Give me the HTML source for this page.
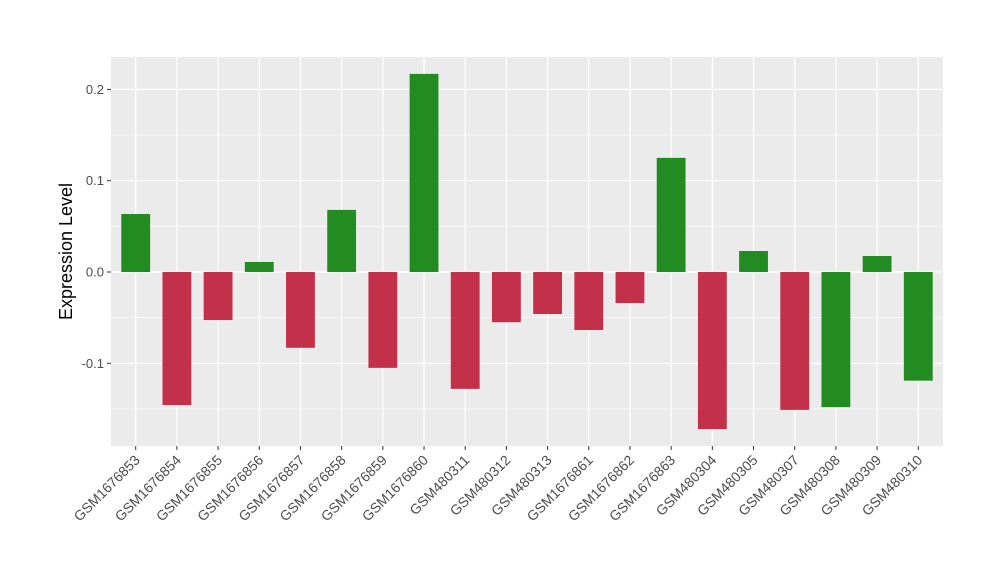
<!DOCTYPE html>
<html><head><meta charset="utf-8"><style>
body{margin:0;background:#fff;}
svg{display:block;font-family:"Liberation Sans",sans-serif;}
</style></head><body>
<svg id="chart" width="1000" height="580"></svg>
<script>
const categories=["GSM1676853","GSM1676854","GSM1676855","GSM1676856","GSM1676857","GSM1676858","GSM1676859","GSM1676860","GSM480311","GSM480312","GSM480313","GSM1676861","GSM1676862","GSM1676863","GSM480304","GSM480305","GSM480307","GSM480308","GSM480309","GSM480310"];
const values=[0.0635,-0.1457,-0.0526,0.011,-0.083,0.068,-0.105,0.217,-0.128,-0.055,-0.046,-0.0635,-0.034,0.125,-0.172,0.023,-0.151,-0.148,0.0175,-0.119];
const groups=["g","r","r","g","r","g","r","g","r","r","r","r","r","g","r","g","r","g","g","g"];
const yTicks=[-0.1,0.0,0.1,0.2];
const yTickLabels=["-0.1","0.0","0.1","0.2"];
const NS="http://www.w3.org/2000/svg";
const svg=document.getElementById("chart");
const L=111,R=943,T=57,B=446;
const y0=272,pxPer=913;
function y(v){return y0-v*pxPer;}
const unit=(R-L)/(categories.length-1+1.2);
function x(i){return L+unit*(i+0.6);}
function mk(tag,attrs){const e=document.createElementNS(NS,tag);for(const k in attrs)e.setAttribute(k,attrs[k]);svg.appendChild(e);return e;}
let e=mk("rect",{x:L,y:T,width:R-L,height:B-T,fill:"#EBEBEB"});


for(let i=0;i<yTicks.length-1;i++){const m=(yTicks[i]+yTicks[i+1])/2;
 e=mk("line",{x1:L,x2:R,y1:y(m),y2:y(m),stroke:"#fff","stroke-width":0.6});
 
 }
[yTicks[0]-0.05,yTicks[yTicks.length-1]+0.05].forEach(m=>{if(y(m)>T&&y(m)<B){e=mk("line",{x1:L,x2:R,y1:y(m),y2:y(m),stroke:"#fff","stroke-width":0.6});
 
 }});
yTicks.forEach((t,i)=>{
 e=mk("line",{x1:L,x2:R,y1:y(t),y2:y(t),stroke:"#fff","stroke-width":1.2});
 
 
 e=mk("line",{x1:L-4,x2:L,y1:y(t),y2:y(t),stroke:"#333","stroke-width":1});
 
 
 e=mk("text",{x:L-7,y:y(t)+4.5,"text-anchor":"end","font-size":13,fill:"#4D4D4D"});
 e.textContent=yTickLabels[i];
 
 
});
categories.forEach((c,i)=>{
 e=mk("line",{x1:x(i),x2:x(i),y1:T,y2:B,stroke:"#fff","stroke-width":1.2});
 
 
});
categories.forEach((c,i)=>{
 const v=values[i],w=unit*0.7;
 e=mk("rect",{x:x(i)-w/2,y:Math.min(y(v),y(0)),width:w,height:Math.abs(y(v)-y(0)),fill:groups[i]=="g"?"#228B22":"#C3304A"});
 
 
 e=mk("line",{x1:x(i),x2:x(i),y1:B,y2:B+4,stroke:"#333","stroke-width":1});
 
 
 e=mk("text",{x:x(i)+5,y:B+15,"text-anchor":"end","font-size":14,fill:"#4D4D4D",transform:`rotate(-45 ${x(i)+5} ${B+15})`});
 e.textContent=c;
 
 
});
e=mk("text",{x:72,y:(T+B)/2,"text-anchor":"middle","font-size":18,fill:"#000",transform:`rotate(-90 72 ${(T+B)/2})`});
e.textContent="Expression Level";


</script>
</body></html>
